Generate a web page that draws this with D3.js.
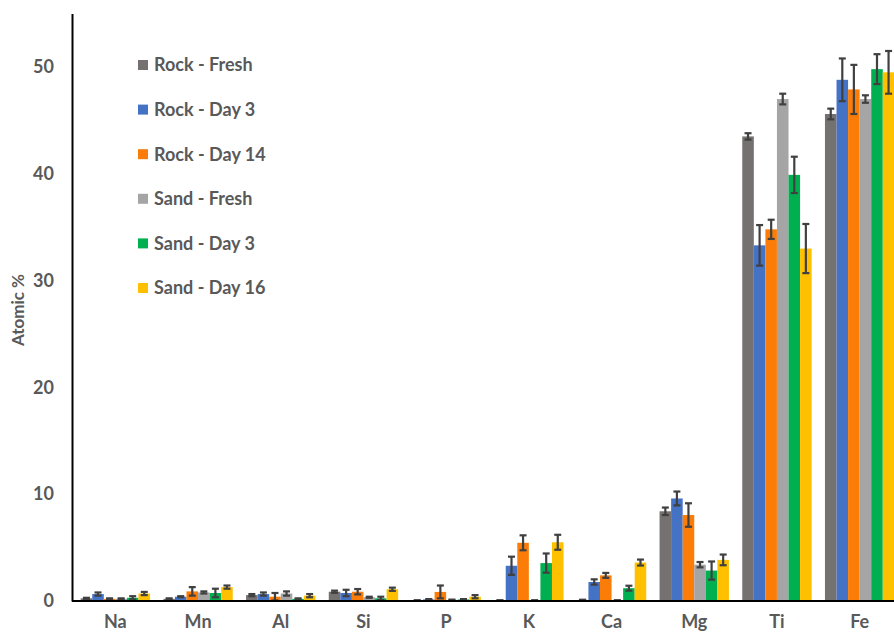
<!DOCTYPE html>
<html><head><meta charset="utf-8">
<script src="https://cdn.jsdelivr.net/npm/d3@7"></script>
<style>body{margin:0;background:#fff}svg{display:block}</style>
</head><body>
<script>
const categories = ["Na","Mn","Al","Si","P","K","Ca","Mg","Ti","Fe"];
const seriesNames = ["Rock - Fresh","Rock - Day 3","Rock - Day 14","Sand - Fresh","Sand - Day 3","Sand - Day 16"];
const seriesColors = ["#767171","#4472C4","#FB7D07","#A5A5A5","#00B050","#FFC000"];
const rockFresh   = [0.25,0.2,0.55,0.87,0.05,0.05,0.1,8.4,43.5,45.6];
const rockFreshErr= [0.05,0.05,0.1,0.1,0.02,0.02,0.02,0.35,0.3,0.5];
const rockDay3    = [0.65,0.4,0.65,0.75,0.15,3.3,1.78,9.6,33.3,48.8];
const rockDay3Err = [0.15,0.05,0.15,0.3,0.03,0.85,0.25,0.65,1.9,2.0];
const rockDay14   = [0.2,0.9,0.4,0.87,0.85,5.45,2.4,8.05,34.8,47.9];
const rockDay14Err= [0.05,0.4,0.35,0.25,0.6,0.7,0.23,1.1,0.9,2.3];
const sandFresh   = [0.2,0.8,0.7,0.35,0.1,0.05,0.05,3.4,47.0,47.0];
const sandFreshErr= [0.05,0.1,0.2,0.05,0.03,0.02,0.02,0.25,0.5,0.35];
const sandDay3    = [0.3,0.75,0.2,0.25,0.15,3.55,1.2,2.85,39.9,49.8];
const sandDay3Err = [0.15,0.4,0.05,0.15,0.03,0.9,0.23,0.85,1.7,1.4];
const sandDay16   = [0.7,1.3,0.5,1.1,0.4,5.5,3.6,3.85,33.0,49.5];
const sandDay16Err= [0.15,0.15,0.15,0.15,0.15,0.7,0.28,0.5,2.3,2.0];
const yTicks = [0,10,20,30,40,50];
const yMax = 55;

const values = [rockFresh,rockDay3,rockDay14,sandFresh,sandDay3,sandDay16];
const errors = [rockFreshErr,rockDay3Err,rockDay14Err,sandFreshErr,sandDay3Err,sandDay16Err];

const W = 894, H = 633;
const svg = d3.select("body").append("svg").attr("width",W).attr("height",H);
const font = "Lato, 'Open Sans', sans-serif";
const textCol = "#595959";

const y = d3.scaleLinear().domain([0,yMax]).range([601,13.6]);
const x0 = d3.scaleBand().domain(categories).range([74,901]).paddingInner(0.161).paddingOuter(0.0805);
const x1 = d3.scaleBand().domain(seriesNames.map((d,i)=>i)).range([0,x0.bandwidth()]);

const data = [];
categories.forEach((c,ci)=>{
  seriesNames.forEach((s,si)=>{
    data.push({c, si, v: values[si][ci], e: errors[si][ci]});
  });
});

const g = svg.append("g");
g.selectAll("rect.bar").data(data).enter().append("rect")
  .attr("class","bar")
  .attr("x",d=>x0(d.c)+x1(d.si))
  .attr("width",x1.bandwidth())
  .attr("y",d=>y(d.v))
  .attr("height",d=>y(0)-y(d.v))
  .attr("fill",d=>seriesColors[d.si]);

// error bars
const eb = g.selectAll("g.err").data(data).enter().append("g").attr("class","err")
  .attr("stroke","#404040").attr("stroke-width",2.2);
eb.append("line")
  .attr("x1",d=>x0(d.c)+x1(d.si)+x1.bandwidth()/2)
  .attr("x2",d=>x0(d.c)+x1(d.si)+x1.bandwidth()/2)
  .attr("y1",d=>y(d.v+d.e)).attr("y2",d=>y(Math.max(0,d.v-d.e)));
["top","bot"].forEach(k=>{
  eb.append("line")
    .attr("x1",d=>x0(d.c)+x1(d.si)+x1.bandwidth()/2-3.5)
    .attr("x2",d=>x0(d.c)+x1(d.si)+x1.bandwidth()/2+3.5)
    .attr("y1",d=>k==="top"?y(d.v+d.e):y(Math.max(0,d.v-d.e)))
    .attr("y2",d=>k==="top"?y(d.v+d.e):y(Math.max(0,d.v-d.e)));
});

// y axis
const yAxis = svg.append("g").attr("transform","translate(72,0)")
  .call(d3.axisLeft(y).tickValues(yTicks).tickSize(0).tickPadding(18));
yAxis.select(".domain").attr("stroke","#000").attr("stroke-width",2);
yAxis.selectAll("text").attr("font-family",font).attr("font-weight","bold")
  .attr("font-size","18px").attr("fill",textCol);

// x axis
const xAxis = svg.append("g").attr("transform","translate(0,601)")
  .call(d3.axisBottom(x0).tickSize(0).tickPadding(14));
xAxis.select(".domain").attr("stroke","#000").attr("stroke-width",2)
  .attr("d","M72,0H901");
xAxis.selectAll("text").attr("font-family",font).attr("font-weight","bold")
  .attr("font-size","18px").attr("fill",textCol);

// y title
svg.append("text").attr("transform","translate(24,310) rotate(-90)")
  .attr("text-anchor","middle").attr("font-family",font).attr("font-weight","bold")
  .attr("font-size","17px").attr("fill",textCol).text("Atomic %");

// legend
const lg = svg.append("g");
seriesNames.forEach((s,i)=>{
  const yy = 65 + i*44.6;
  lg.append("rect").attr("x",138).attr("y",yy-5).attr("width",10).attr("height",10).attr("fill",seriesColors[i]);
  lg.append("text").attr("x",154).attr("y",yy).attr("dy","0.36em")
    .attr("font-family",font).attr("font-weight","bold").attr("font-size","18px")
    .attr("fill",textCol).text(s);
});
</script>
</body></html>
